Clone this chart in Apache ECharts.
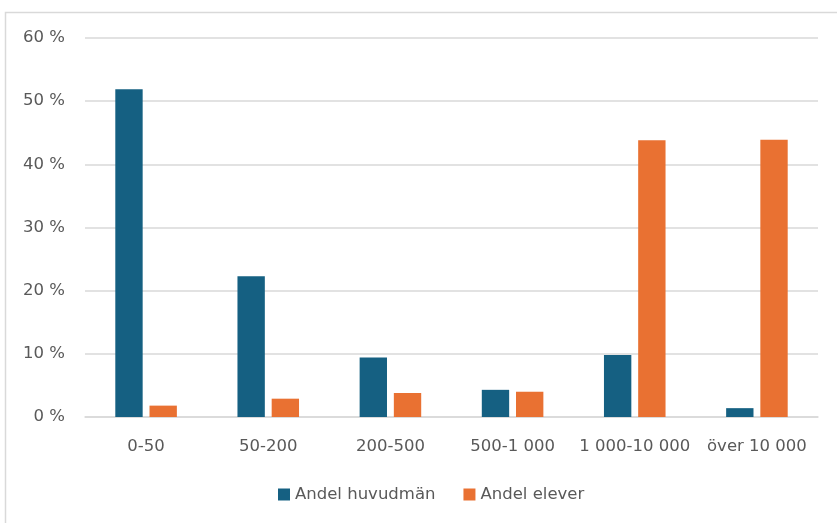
<!DOCTYPE html>
<html>
<head>
<meta charset="utf-8">
<script src="https://cdn.jsdelivr.net/npm/echarts@6/dist/echarts.min.js"></script>
<style>
  html, body { margin: 0; padding: 0; background: #ffffff; }
  #chart { width: 837px; height: 523px; }
</style>
</head>
<body>
<div id="chart"></div>
<script>
// Storleksklasser (antal elever per huvudman)
const categories = ['0-50', '50-200', '200-500', '500-1 000', '1 000-10 000', 'över 10 000'];
// Andel huvudmän per storleksklass, procent
const shareOrganisers = [51.9, 22.3, 9.4, 4.3, 9.8, 1.4];
// Andel elever per storleksklass, procent
const shareStudents = [1.8, 2.9, 3.8, 4.0, 43.8, 43.9];
// Y-axelns skala
const yMin = 0, yMax = 60, yStep = 10;

const textColor = '#595959';
const fontFamily = 'DejaVu Sans, sans-serif';

const chart = echarts.init(document.getElementById('chart'), null, { renderer: 'canvas' });

chart.setOption({
  animation: false,
  backgroundColor: '#ffffff',
  graphic: [{
    type: 'rect',
    shape: { x: 5.5, y: 12.5, width: 1000, height: 1000 },
    style: { fill: 'none', stroke: '#d9d9d9', lineWidth: 1.5 },
    silent: true
  }],
  grid: { left: 85, right: 19, top: 38, bottom: 106 },
  legend: {
    top: 481,
    left: 273,
    itemWidth: 12,
    itemHeight: 12,
    itemGap: 28,
    icon: 'rect',
    textStyle: { color: textColor, fontSize: 16.5, fontFamily: fontFamily }
  },
  xAxis: {
    type: 'category',
    data: categories,
    axisLine: { show: true, lineStyle: { color: '#d9d9d9', width: 1.5 } },
    axisTick: { show: false },
    axisLabel: { interval: 0, hideOverlap: false, color: textColor, fontSize: 16.5, fontFamily: fontFamily, margin: 21 }
  },
  yAxis: {
    type: 'value',
    min: yMin,
    max: yMax,
    interval: yStep,
    axisLine: { show: false },
    axisTick: { show: false },
    axisLabel: { formatter: '{value} %', color: textColor, fontSize: 16.5, fontFamily: fontFamily, margin: 20 },
    splitLine: { lineStyle: { color: '#d9d9d9', width: 1.5 } }
  },
  series: [
    {
      name: 'Andel huvudmän',
      type: 'bar',
      data: shareOrganisers,
      barWidth: '22.4%',
      barGap: '25%',
      itemStyle: { color: '#156082' }
    },
    {
      name: 'Andel elever',
      type: 'bar',
      data: shareStudents,
      barWidth: '22.4%',
      barGap: '25%',
      itemStyle: { color: '#e97132' }
    }
  ]
});
</script>
</body>
</html>
